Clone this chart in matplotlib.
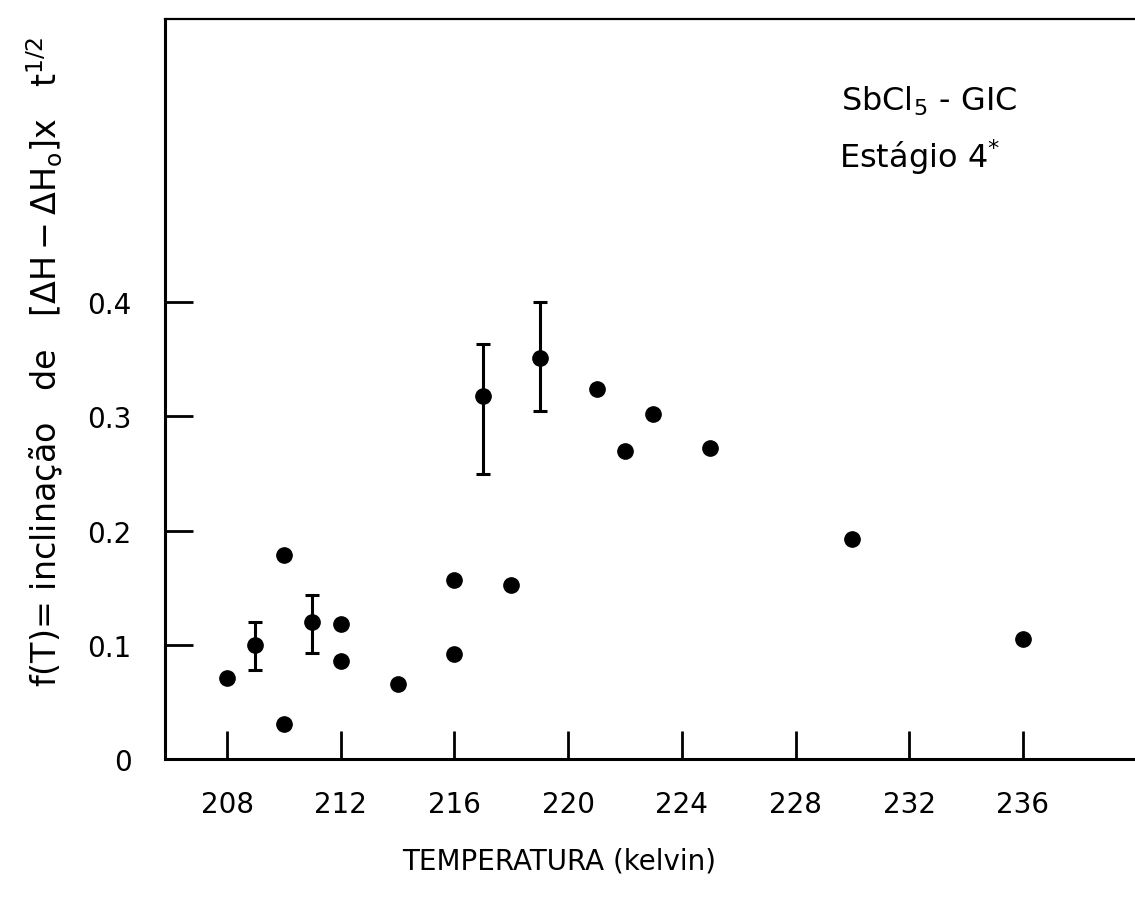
import matplotlib.pyplot as plt

plt.rcParams['font.family'] = ['DejaVu Sans']
plt.rcParams['mathtext.fontset'] = 'dejavusans'

# dados
temp = [208, 209, 210, 210, 211, 212, 212, 214, 216, 216, 217, 218, 219,
        221, 222, 223, 225, 230, 236]
f_T = [0.071, 0.100, 0.179, 0.031, 0.120, 0.118, 0.086, 0.066, 0.157, 0.092,
       0.318, 0.152, 0.351, 0.324, 0.270, 0.302, 0.272, 0.193, 0.105]

# pontos com barra de erro
err_temp = [209, 211, 217, 219]
err_val = [0.100, 0.120, 0.318, 0.351]
err_low = [0.078, 0.093, 0.250, 0.305]
err_high = [0.120, 0.144, 0.363, 0.400]

xticks = [208, 212, 216, 220, 224, 228, 232, 236]
yticks = [0, 0.1, 0.2, 0.3, 0.4]
ytick_labels = ['0', '0.1', '0.2', '0.3', '0.4']

fig = plt.figure(figsize=(11.35, 9.12), dpi=100)
ax = fig.add_axes([0.1454, 0.1667, 0.8546, 0.8113])

yerr = [[v - lo for v, lo in zip(err_val, err_low)],
        [hi - v for v, hi in zip(err_val, err_high)]]
ax.errorbar(err_temp, err_val, yerr=yerr, fmt='none', ecolor='black',
            elinewidth=2.2, capsize=5, capthick=2.2)
ax.plot(temp, f_T, 'o', color='black', markersize=11)

ax.set_xlim(205.82, 239.94)
ax.set_ylim(0, 0.648)

ax.set_xticks(xticks)
ax.set_xticklabels([str(t) for t in xticks])
ax.set_yticks(yticks)
ax.set_yticklabels(ytick_labels)
ax.tick_params(axis='both', direction='in', length=20, width=2,
               labelsize=20, color='black')
ax.tick_params(axis='x', pad=22)
ax.tick_params(axis='y', pad=24)

ax.spines['right'].set_visible(False)
ax.spines['left'].set_linewidth(2.2)
ax.spines['bottom'].set_linewidth(2.2)
ax.spines['top'].set_linewidth(1.6)

fig.text(0.493, 1 - 862 / 912, 'TEMPERATURA (kelvin)', ha='center',
         va='center', fontsize=20)
fig.text(45 / 1135, 1 - 362 / 912,
         r'f(T)= inclinação   de   $\left[\mathrm{\Delta H - \Delta H_o}\right]$x   t$^{1/2}$',
         rotation=90, ha='center', va='center', fontsize=24)

ax.text(0.697, 0.89, r'SbCl$_5$ - GIC', transform=ax.transAxes,
        fontsize=23, ha='left', va='center')
ax.text(0.695, 0.815, r'Estágio 4$^{*}$', transform=ax.transAxes,
        fontsize=23, ha='left', va='center')

fig.savefig('out.png', dpi=100)
